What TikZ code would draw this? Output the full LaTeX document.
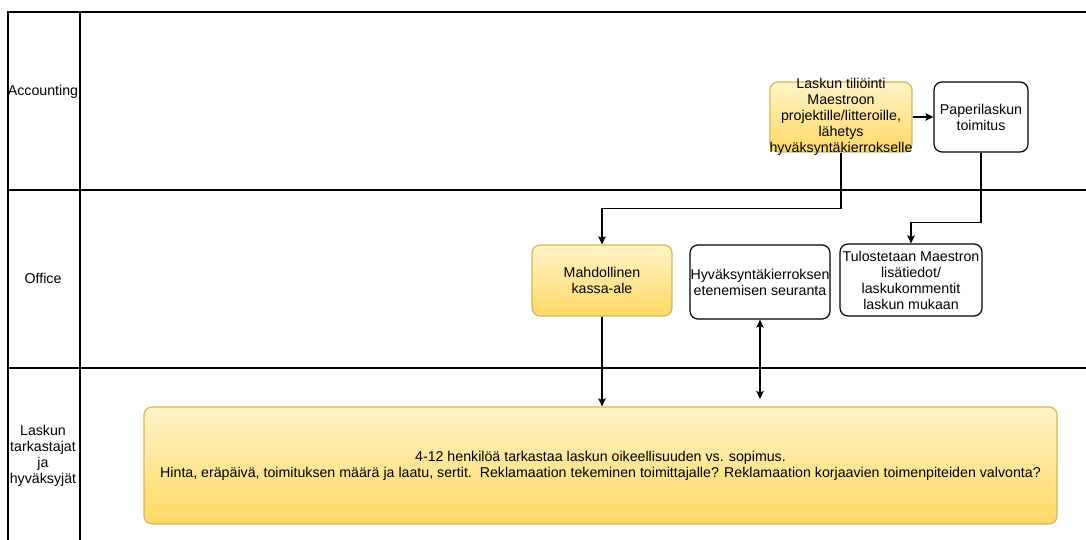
\documentclass[tikz,border=0pt]{standalone}
\usepackage{fontspec}
\setmainfont{Liberation Sans}
\usetikzlibrary{arrows.meta}
\definecolor{noteyellow}{HTML}{FFD966}
\definecolor{notelight}{HTML}{FFF4C8}
\definecolor{noteedge}{HTML}{D6B656}

\begin{document}
\begin{tikzpicture}[x=1pt, y=-1pt, font=\fontsize{14.2}{16}\selectfont]

      \tikzset{task/.style={draw, rounded corners=8pt, line width=1.2pt, align=center, inner sep=0pt},
               yellowtask/.style={task, draw=noteedge, top color=notelight, bottom color=noteyellow},
               flow/.style={-{Stealth[length=8pt, width=7.5pt, inset=1.5pt]}, line width=1.3pt},
               flowboth/.style={{Stealth[length=8pt, width=7.5pt, inset=1.5pt]}-{Stealth[length=8pt, width=7.5pt, inset=1.5pt]}, line width=1.3pt},
               lane/.style={line width=1.6pt}}
      \useasboundingbox (0,0) rectangle (1086,540);
% Lanes
      	\draw[lane] (8,540) -- (8,12) -- (1086,12);
      	\draw[lane] (80,12) -- (80,540);
      	\draw[lane] (8,190) -- (1086,190);
      	\draw[lane] (8,368) -- (1086,368);
      	\node (accounting) at (43,92) {Accounting};
      	\node (office) at (43,278) {Office};
      	\node[align=center] (checkers) at (43,456) {Laskun\\tarkastajat\\ja\\hyväksyjät};
% Vertices
      	\node[yellowtask, minimum width=142pt, minimum height=70pt,
      	      label={[align=center]center:{Laskun tiliöinti\\Maestroon\\projektille/litteroille,\\lähetys\\hyväksyntäkierrokselle}}] (tili) at (841,117) {};
      	\node[task, minimum width=94pt, minimum height=70pt] (paper) at (981,117) {Paperilaskun\\toimitus};
      	\node[yellowtask, minimum width=140pt, minimum height=71pt] (kassa) at (602,280.5) {Mahdollinen\\kassa-ale};
      	\node[task, minimum width=140pt, minimum height=74pt] (seuranta) at (760,282) {Hyväksyntäkierroksen\\etenemisen seuranta};
      	\node[task, minimum width=142pt, minimum height=72pt] (tuloste) at (911,280) {Tulostetaan Maestron\\lisätiedot/\\laskukommentit\\laskun mukaan};
      	\node[yellowtask, minimum width=913pt, minimum height=117pt] (check) at (600.5,465.5)
      	      {4-12 henkilöä tarkastaa laskun oikeellisuuden vs. sopimus.\\Hinta, eräpäivä, toimituksen määrä ja laatu, sertit.\ \ Reklamaation tekeminen toimittajalle? Reklamaation korjaavien toimenpiteiden valvonta?};
      	\coordinate (seurend) at (760,399);
%Edges
		\draw[flow] (tili) -- (paper);
		\draw[flow] (tili.south) -- ++(0,56) -| (kassa.north);
		\draw[flow] (paper.south) -- ++(0,70) -| (tuloste.north);
		\draw[flow] (kassa.south) -- (kassa.south |- check.north);
		\draw[flowboth] (seuranta.south) -- (seurend);

	\end{tikzpicture}
\end{document}
